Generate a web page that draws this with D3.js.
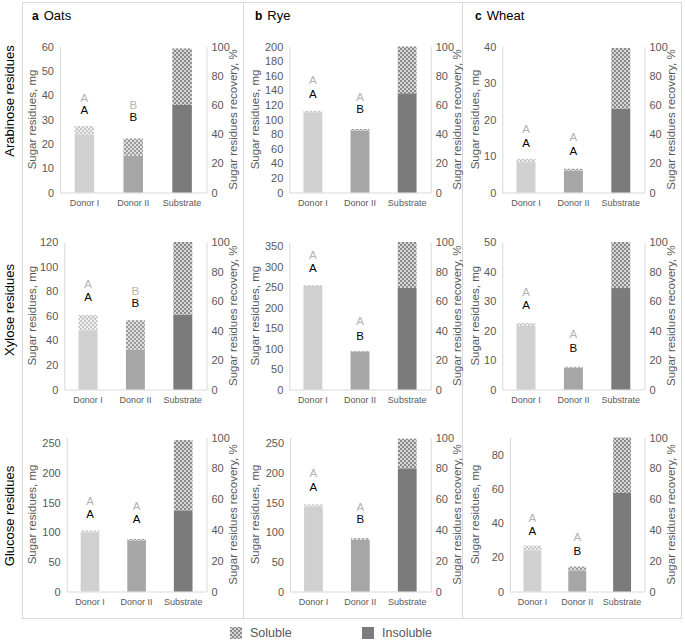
<!DOCTYPE html>
<html>
<head>
<meta charset="utf-8">
<script src="https://cdn.jsdelivr.net/npm/d3@7"></script>
<style>
  html, body { margin: 0; padding: 0; background: #fff; }
  svg { display: block; font-family: "Liberation Sans", Arial, sans-serif; }
</style>
</head>
<body>
<svg id="chart" width="685" height="641"></svg>
<script>
// ---------------- DATA ----------------
const cereals = ["Oats", "Rye", "Wheat"];
const panelLetters = ["a", "b", "c"];
const sugars = ["Arabinose residues", "Xylose residues", "Glucose residues"];
const categories = ["Donor I", "Donor II", "Substrate"];

// insoluble residues, mg  [sugar][cereal][category]
const insoluble = [
  [[23.7, 15.1, 36.0], [110, 85, 136], [8.3, 6.0, 23.0]],
  [[48.2, 32.6, 60.8], [253, 93, 248], [21.6, 7.4, 34.4]],
  [[100, 86, 137], [143, 87.3, 208], [24.0, 12.3, 57.6]]
];
// soluble residues, mg (stacked on top)
const soluble = [
  [[3.6, 7.1, 23.2], [2, 2, 64], [0.9, 0.5, 16.6]],
  [[12.4, 23.8, 59.2], [2, 1.2, 112], [0.9, 0.3, 15.6]],
  [[3, 2.7, 118.6], [4, 2.7, 50], [2.8, 2.3, 32.4]]
];
// left axis maximum and tick step [sugar][cereal]
const axisMax = [[60, 200, 40], [120, 360, 50], [260, 260, 90]];
const axisStep = [[10, 20, 10], [20, 50, 10], [50, 50, 20]];
const recoveryTicks = [0, 20, 40, 60, 80, 100];

// significance letters for Donor I / Donor II
const greyLetters = [
  [["A", "B"], ["A", "A"], ["A", "A"]],
  [["A", "B"], ["A", "A"], ["A", "A"]],
  [["A", "A"], ["A", "A"], ["A", "A"]]
];
const blackLetters = [
  [["A", "B"], ["A", "B"], ["A", "A"]],
  [["A", "B"], ["A", "B"], ["A", "B"]],
  [["A", "A"], ["A", "B"], ["A", "B"]]
];
// letter heights in axis units (mg)
const greyLetterAt = [
  [[38.9, 35.9], [154.5, 131], [17.3, 15.3]],
  [[86, 80], [327.6, 167], [33, 18.8]],
  [[153, 144.6], [199.7, 143], [43, 31.8]]
];
const blackLetterAt = [
  [[33.9, 31.1], [135.7, 114], [13.6, 11.5]],
  [[75.6, 70.4], [296, 131], [28.6, 14.2]],
  [[131.5, 121.8], [177.5, 121.9], [35.6, 24]]
];
const legendItems = ["Soluble", "Insoluble"];

// ---------------- LAYOUT ----------------
const colLeft = [22, 243, 462];
const frameRight = 681, frameTop = 2, frameBottom = 618;
const rowTop = [46.5, 242, 437.5];
const rowBottom = [192.5, 389.5, 591.5];
const plotLeft = [[60, 289.3, 502.3], [64.3, 289.3, 502.3], [66.7, 290, 510]];
const plotRight = [206.5, 430.7, 644.5];
const leftTitleX = [32, 255, 475];
const rowLabelY = [101, 310, 516];

const insolColor = ["#d0d0d0", "#a6a6a6", "#7b7b7b"];
const patDark = ["#c6c6c6", "#9c9c9c", "#8a8a8a"];
const patLight = ["#eeeeee", "#dedede", "#d6d6d6"];
const axisGrey = "#d9d9d9";
const textGrey = "#595959";

const svg = d3.select("#chart");
const defs = svg.append("defs");
patDark.forEach((c, i) => {
  const p = defs.append("pattern").attr("id", "pat" + i)
    .attr("patternUnits", "userSpaceOnUse").attr("width", 4).attr("height", 4);
  p.append("rect").attr("width", 4).attr("height", 4).attr("fill", patLight[i]);
  p.append("rect").attr("x", 0).attr("y", 0).attr("width", 2).attr("height", 2).attr("fill", c);
  p.append("rect").attr("x", 2).attr("y", 2).attr("width", 2).attr("height", 2).attr("fill", c);
});

// frame
const frame = svg.append("g").attr("stroke", axisGrey).attr("stroke-width", 1).attr("fill", "none");
frame.append("rect").attr("x", colLeft[0] + 0.5).attr("y", frameTop + 0.5)
  .attr("width", frameRight - colLeft[0]).attr("height", frameBottom - frameTop);
[1, 2].forEach(i => frame.append("line").attr("x1", colLeft[i] + 0.5).attr("x2", colLeft[i] + 0.5)
  .attr("y1", frameTop).attr("y2", frameBottom));

// row labels
sugars.forEach((s, r) => {
  svg.append("text").attr("transform", `translate(14,${rowLabelY[r]}) rotate(-90)`)
    .attr("text-anchor", "middle").attr("font-size", 13).attr("fill", "#000").text(s);
});

// panel titles
cereals.forEach((c, ci) => {
  const t = svg.append("text").attr("x", leftTitleX[ci]).attr("y", 20).attr("font-size", 13).attr("fill", "#000");
  t.append("tspan").attr("font-weight", "bold").attr("font-size", 12).text(panelLetters[ci]);
  t.append("tspan").attr("dx", 5).text(c);
});

// panels
sugars.forEach((s, r) => {
  cereals.forEach((c, ci) => {
    const g = svg.append("g").attr("color", textGrey);
    const x0 = plotLeft[r][ci], x1 = plotRight[ci];
    const y = d3.scaleLinear().domain([0, axisMax[r][ci]]).range([rowBottom[r], rowTop[r]]);
    const yR = d3.scaleLinear().domain([0, 100]).range([rowBottom[r], rowTop[r]]);
    const x = d3.scaleBand().domain(categories).range([x0, x1]).paddingInner(0.6).paddingOuter(0.3);

    const leftTicks = d3.range(0, axisMax[r][ci] + 0.001, axisStep[r][ci]);
    const axL = g.append("g").attr("transform", `translate(${x0},0)`)
      .call(d3.axisLeft(y).tickValues(leftTicks).tickSize(0).tickPadding(6).tickFormat(d3.format("d")));
    const axR = g.append("g").attr("transform", `translate(${x1},0)`)
      .call(d3.axisRight(yR).tickValues(recoveryTicks).tickSize(0).tickPadding(5).tickFormat(d3.format("d")));
    const axB = g.append("g").attr("transform", `translate(0,${rowBottom[r]})`)
      .call(d3.axisBottom(x).tickSize(0).tickPadding(7));
    [axL, axR, axB].forEach(a => {
      a.select(".domain").attr("stroke", axisGrey);
      a.selectAll("text").attr("fill", textGrey).attr("font-family", "Liberation Sans, Arial, sans-serif");
    });
    axL.selectAll("text").attr("font-size", 11);
    axR.selectAll("text").attr("font-size", 11);
    axB.selectAll("text").attr("font-size", 9);
    axB.select(".domain").attr("d", `M${x0},0.5H${x1}`);

    // bars
    categories.forEach((cat, k) => {
      const ins = insoluble[r][ci][k], sol = soluble[r][ci][k];
      g.append("rect").attr("x", x(cat)).attr("width", x.bandwidth())
        .attr("y", y(ins)).attr("height", y(0) - y(ins)).attr("fill", insolColor[k]);
      g.append("rect").attr("x", x(cat)).attr("width", x.bandwidth())
        .attr("y", y(ins + sol)).attr("height", y(ins) - y(ins + sol)).attr("fill", `url(#pat${k})`);
    });

    // letters
    [0, 1].forEach(k => {
      const cx = x(categories[k]) + x.bandwidth() / 2;
      g.append("text").attr("x", cx).attr("y", y(greyLetterAt[r][ci][k])).attr("dy", "0.36em")
        .attr("text-anchor", "middle").attr("font-size", 11.5).attr("fill", "#b3b3b3")
        .text(greyLetters[r][ci][k]);
      g.append("text").attr("x", cx).attr("y", y(blackLetterAt[r][ci][k])).attr("dy", "0.36em")
        .attr("text-anchor", "middle").attr("font-size", 11.5).attr("fill", "#000")
        .text(blackLetters[r][ci][k]);
    });

    // axis titles
    const midY = (rowTop[r] + rowBottom[r]) / 2;
    g.append("text").attr("transform", `translate(${leftTitleX[ci] + 4},${midY}) rotate(-90)`)
      .attr("text-anchor", "middle").attr("font-size", 11.5).attr("fill", textGrey)
      .text("Sugar residues, mg");
    g.append("text").attr("transform", `translate(${x1 + 30},${midY}) rotate(-90)`)
      .attr("text-anchor", "middle").attr("font-size", 11.5).attr("fill", textGrey)
      .text("Sugar residues recovery, %");
  });
});

// legend
const legX = [230, 362];
legendItems.forEach((l, i) => {
  svg.append("rect").attr("x", legX[i]).attr("y", 627).attr("width", 12).attr("height", 12)
    .attr("fill", i === 0 ? "url(#pat2)" : insolColor[2]);
  svg.append("text").attr("x", legX[i] + 20).attr("y", 637).attr("font-size", 12.5).attr("fill", textGrey).text(l);
});
</script>
</body>
</html>
